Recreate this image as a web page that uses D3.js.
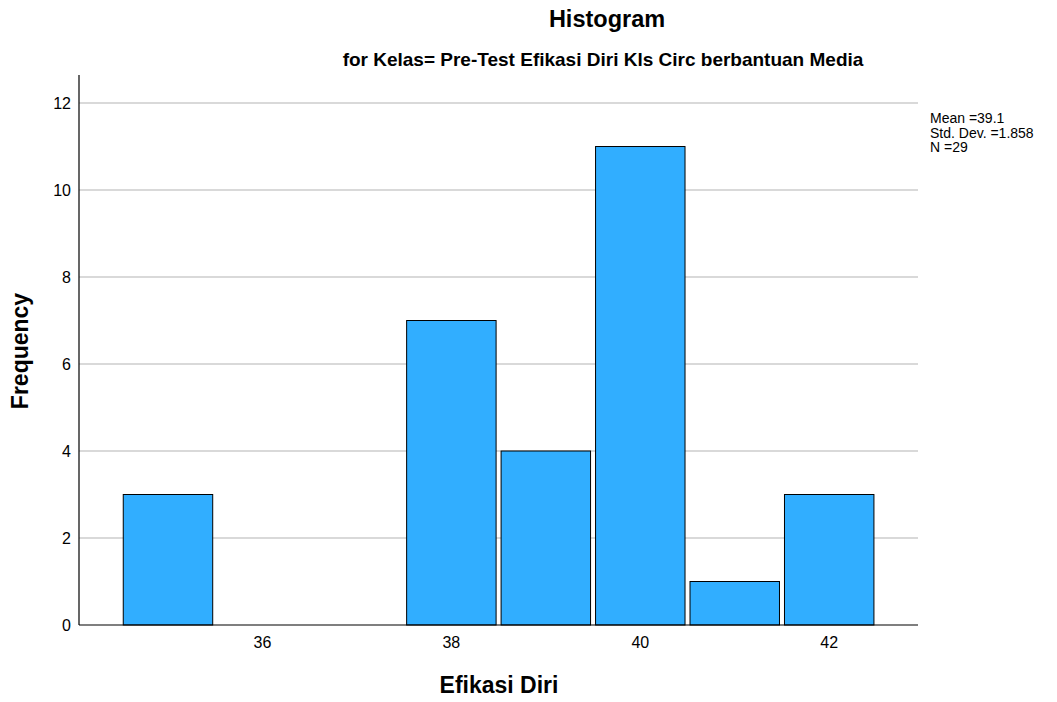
<!DOCTYPE html>
<html><head><meta charset="utf-8">
<script src="https://cdn.jsdelivr.net/npm/d3@7"></script>
<style>body{margin:0;background:#fff;} svg text{font-family:"Liberation Sans",Arial,sans-serif;}</style>
</head><body><svg id="c" width="1057" height="702"></svg>
<script>
const binCenters = [35, 36, 37, 38, 39, 40, 41, 42];
const frequencies = [3, 0, 0, 7, 4, 11, 1, 3];
const xTicks = [36, 38, 40, 42];
const yTicks = [0, 2, 4, 6, 8, 10, 12];
const statsLines = ["Mean =39.1", "Std. Dev. =1.858", "N =29"];

const svg = d3.select("#c");
const L = 79, R = 918, T = 75, B = 625;
const x = d3.scaleLinear().domain([34.058, 42.94]).range([L, R]);
const y = d3.scaleLinear().domain([0, 12.644]).range([B, T]);

// grid
svg.append("g").selectAll("line").data(yTicks.filter(d => d > 0)).join("line")
  .attr("x1", L).attr("x2", R).attr("y1", d => y(d)).attr("y2", d => y(d))
  .attr("stroke", "#b4b4b4").attr("stroke-width", 1.2);

// bars
const bw = x(1) - x(0);
svg.append("g").selectAll("rect").data(binCenters.map((c, i) => ({c, f: frequencies[i]})).filter(d => d.f > 0)).join("rect")
  .attr("x", d => x(d.c - 0.5) + 2.5).attr("width", bw - 5)
  .attr("y", d => y(d.f)).attr("height", d => B - y(d.f))
  .attr("fill", "#31aeff").attr("stroke", "#000").attr("stroke-width", 1);

// axes lines
svg.append("line").attr("x1", L).attr("x2", L).attr("y1", T).attr("y2", B).attr("stroke", "#000").attr("stroke-width", 1.2);
svg.append("line").attr("x1", L).attr("x2", R).attr("y1", B).attr("y2", B).attr("stroke", "#000").attr("stroke-width", 1.2);

// y tick labels
svg.append("g").selectAll("text").data(yTicks).join("text")
  .attr("x", 71).attr("y", d => y(d) + 5.5).attr("text-anchor", "end")
  .attr("font-size", 16).attr("fill", "#000").text(d => d);

// x tick labels
svg.append("g").selectAll("text").data(xTicks).join("text")
  .attr("x", d => x(d)).attr("y", 648).attr("text-anchor", "middle")
  .attr("font-size", 16).attr("fill", "#000").text(d => d);

// titles
svg.append("text").attr("x", 607).attr("y", 27).attr("text-anchor", "middle")
  .attr("font-size", 23.5).attr("font-weight", "bold").text("Histogram");
svg.append("text").attr("x", 603).attr("y", 66).attr("text-anchor", "middle")
  .attr("font-size", 19).attr("font-weight", "bold").text("for Kelas= Pre-Test Efikasi Diri Kls Circ berbantuan Media");
svg.append("text").attr("x", 499).attr("y", 693).attr("text-anchor", "middle")
  .attr("font-size", 23).attr("font-weight", "bold").text("Efikasi Diri");
svg.append("text").attr("transform", "translate(28,351) rotate(-90)").attr("text-anchor", "middle")
  .attr("font-size", 23).attr("font-weight", "bold").text("Frequency");

// stats
svg.append("g").selectAll("text").data(statsLines).join("text")
  .attr("x", 930).attr("y", (d, i) => 123 + i * 14.5)
  .attr("font-size", 14).attr("fill", "#000").text(d => d);
</script></body></html>
